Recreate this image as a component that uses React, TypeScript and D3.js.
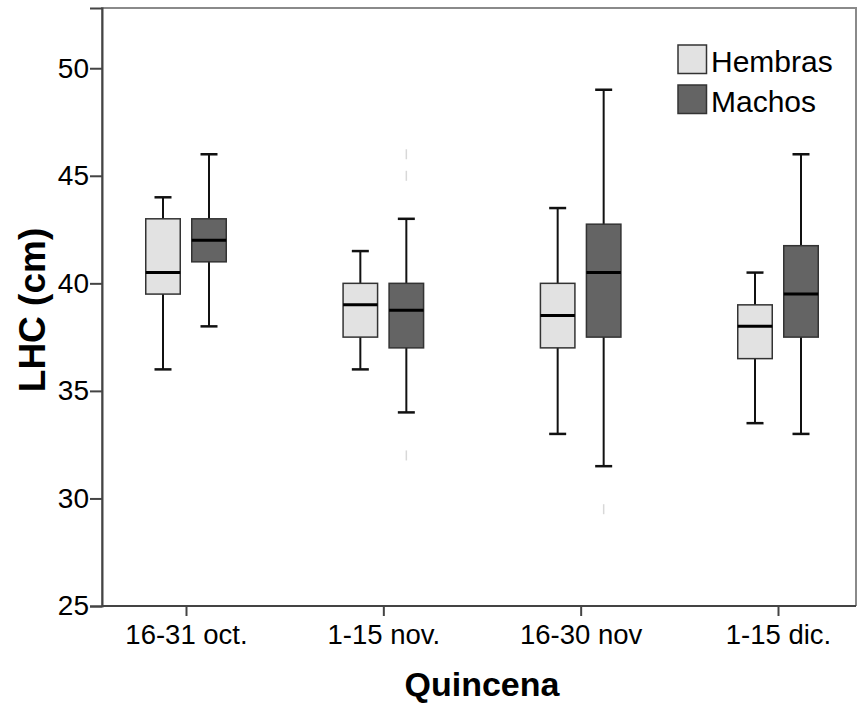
import { useEffect, useRef } from 'react';
import * as d3 from 'd3';

const categories = ['16-31 oct.', '1-15 nov.', '16-30 nov', '1-15 dic.'];
const groups = ['Hembras', 'Machos'];
const yTicks = [25, 30, 35, 40, 45, 50];

const hembrasMin = [36, 36, 33, 33.5];
const hembrasQ1 = [39.5, 37.5, 37, 36.5];
const hembrasMedian = [40.5, 39, 38.5, 38];
const hembrasQ3 = [43, 40, 40, 39];
const hembrasMax = [44, 41.5, 43.5, 40.5];
const hembrasOutliers: number[][] = [[], [], [], []];

const machosMin = [38, 34, 31.5, 33];
const machosQ1 = [41, 37, 37.5, 37.5];
const machosMedian = [42, 38.75, 40.5, 39.5];
const machosQ3 = [43, 40, 42.75, 41.75];
const machosMax = [46, 43, 49, 46];
const machosOutliers: number[][] = [[], [46, 45, 32], [29.5], []];

const colors = ['#e2e2e2', '#646464'];

export default function App() {
	const ref = useRef<SVGSVGElement | null>(null);

	useEffect(() => {
		if (!ref.current) return;
		const svg = d3.select(ref.current);
		svg.selectAll('*').remove();

		const W = 863;
		const H = 704;
		const left = 102;
		const right = 856;
		const top = 8;
		const bottom = 606;
		const font = 'Arial, "Liberation Sans", sans-serif';

		svg.append('rect').attr('width', W).attr('height', H).attr('fill', '#fff');

		const y = d3.scaleLinear().domain([25, 52.8]).range([bottom, top]);
		const x = d3.scalePoint<string>().domain(categories).range([left + 84, right - 78]);
		const off = d3.scalePoint<string>().domain(groups).range([-23, 23]);
		const boxW = 34.5;

		// frame
		svg
			.append('path')
			.attr('d', `M${left},${bottom}V${top}H${right}V${bottom}`)
			.attr('fill', 'none')
			.attr('stroke', '#8a8a8a')
			.attr('stroke-width', 2);

		const yAxis = svg
			.append('g')
			.attr('transform', `translate(${left},0)`)
			.call(d3.axisLeft(y).tickValues(yTicks).tickSize(12).tickPadding(1).tickFormat(d3.format('d')));
		yAxis.select('.domain').attr('stroke', '#444').attr('stroke-width', 2);
		yAxis.selectAll('.tick line').attr('stroke', '#444').attr('stroke-width', 2);
		yAxis
			.selectAll('.tick text')
			.attr('fill', '#000')
			.style('font-family', font)
			.style('font-size', '28px');

		const xAxis = svg
			.append('g')
			.attr('transform', `translate(0,${bottom})`)
			.call(d3.axisBottom(x).tickSize(10).tickPadding(8));
		xAxis.select('.domain').attr('d', `M${left},0H${right}`).attr('stroke', '#444').attr('stroke-width', 2);
		xAxis.selectAll('.tick line').attr('stroke', '#444').attr('stroke-width', 2);
		xAxis
			.selectAll('.tick text')
			.attr('fill', '#000')
			.style('font-family', font)
			.style('font-size', '27.5px');

		svg
			.append('text')
			.attr('x', 482)
			.attr('y', 696)
			.attr('text-anchor', 'middle')
			.style('font-family', font)
			.style('font-weight', 'bold')
			.style('font-size', '34px')
			.text('Quincena');

		svg
			.append('text')
			.attr('transform', `translate(45,310) rotate(-90)`)
			.attr('text-anchor', 'middle')
			.style('font-family', font)
			.style('font-weight', 'bold')
			.style('font-size', '37px')
			.text('LHC (cm)');

		const series = [
			{ name: 'Hembras', min: hembrasMin, q1: hembrasQ1, med: hembrasMedian, q3: hembrasQ3, max: hembrasMax, out: hembrasOutliers },
			{ name: 'Machos', min: machosMin, q1: machosQ1, med: machosMedian, q3: machosQ3, max: machosMax, out: machosOutliers },
		];

		series.forEach((s, si) => {
			categories.forEach((c, i) => {
				const cx = (x(c) as number) + (off(s.name) as number);
				const g = svg.append('g');
				// outliers (very faint)
				s.out[i].forEach(v => {
					g.append('line')
						.attr('x1', cx)
						.attr('x2', cx)
						.attr('y1', y(v) - 5)
						.attr('y2', y(v) + 5)
						.attr('stroke', '#d8d8d8')
						.attr('stroke-width', 1.5);
				});
				g.append('line')
					.attr('x1', cx)
					.attr('x2', cx)
					.attr('y1', y(s.max[i]))
					.attr('y2', y(s.min[i]))
					.attr('stroke', '#111')
					.attr('stroke-width', 2);
				[s.max[i], s.min[i]].forEach(v => {
					g.append('line')
						.attr('x1', cx - 8.5)
						.attr('x2', cx + 8.5)
						.attr('y1', y(v))
						.attr('y2', y(v))
						.attr('stroke', '#111')
						.attr('stroke-width', 2.5);
				});
				g.append('rect')
					.attr('x', cx - boxW / 2)
					.attr('width', boxW)
					.attr('y', y(s.q3[i]))
					.attr('height', y(s.q1[i]) - y(s.q3[i]))
					.attr('fill', colors[si])
					.attr('stroke', '#333')
					.attr('stroke-width', 1.5);
				g.append('line')
					.attr('x1', cx - boxW / 2)
					.attr('x2', cx + boxW / 2)
					.attr('y1', y(s.med[i]))
					.attr('y2', y(s.med[i]))
					.attr('stroke', '#000')
					.attr('stroke-width', 3);
			});
		});

		// legend
		const leg = svg.append('g').attr('transform', 'translate(678,45)');
		groups.forEach((gName, i) => {
			const row = leg.append('g').attr('transform', `translate(0,${i * 40})`);
			row.append('rect')
				.attr('width', 28.5)
				.attr('height', 28.5)
				.attr('fill', colors[i])
				.attr('stroke', '#333')
				.attr('stroke-width', 1.5);
			row.append('text')
				.attr('x', 33)
				.attr('y', 27)
				.style('font-family', font)
				.style('font-size', '30px')
				.text(gName);
		});
	}, []);

	return <svg ref={ref} width={863} height={704} style={{ position: 'absolute', left: 0, top: 0 }} />;
}
